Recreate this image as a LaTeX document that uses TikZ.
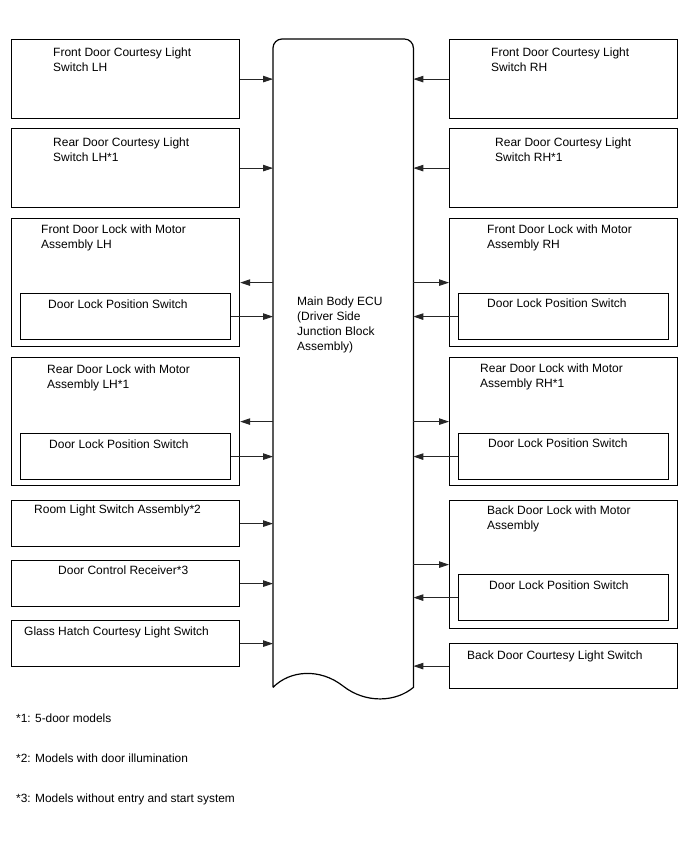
\documentclass[tikz,border=0pt]{standalone}
\usepackage{fontspec}
\setmainfont{Liberation Sans}
\usetikzlibrary{arrows.meta, calc}

\tikzset{
  unitbox/.style={draw, line width=1.2pt, inner sep=0pt, anchor=north west},
  lbl/.style={inner sep=0pt, anchor=north west, align=left, font=\fontsize{12}{14.8}\selectfont},
  note/.style={inner sep=0pt, anchor=north west, font=\fontsize{11.9}{13}\selectfont},
  sig/.style={-{Triangle[length=10pt,width=6.5pt]}, line width=0.9pt, black!85},
}

\begin{document}
\begin{tikzpicture}[x=1pt, y=1pt]
	\useasboundingbox (0,0) rectangle (688,-852);
	% ECU
	\node[inner sep=0pt, minimum width=140pt, minimum height=648pt, anchor=north west] (ecu) at (273,-39) {};
	\draw[line width=1.2pt] (ecu.south west) [rounded corners=9pt] -- (ecu.north west) -- (ecu.north east) [sharp corners] -- (ecu.south east)
		.. controls (396,-702) and (366,-704) .. (343,-686) .. controls (320,-668) and (290,-670) .. (ecu.south west);
	\node[lbl] (ecutxt) at (297,-297) {Main Body ECU\\(Driver Side\\Junction Block\\Assembly)};

	% left column
	\node[unitbox, minimum width=228pt, minimum height=79pt] (fclL) at (11,-39) {};
	\node[lbl] (fclLtxt) at (53,-48) {Front Door Courtesy Light\\Switch LH};
	\node[unitbox, minimum width=228pt, minimum height=79pt] (rclL) at (11,-128) {};
	\node[lbl] (rclLtxt) at (53,-138) {Rear Door Courtesy Light\\Switch LH*1};
	\node[unitbox, minimum width=228pt, minimum height=128pt] (fdlL) at (11,-218) {};
	\node[lbl] (fdlLtxt) at (41,-225) {Front Door Lock with Motor\\Assembly LH};
	\node[unitbox, minimum width=210pt, minimum height=46pt] (fdpL) at (20,-293) {};
	\node[lbl] (fdpLtxt) at (48,-300) {Door Lock Position Switch};
	\node[unitbox, minimum width=228pt, minimum height=128pt] (rdlL) at (11,-357) {};
	\node[lbl] (rdlLtxt) at (47,-365) {Rear Door Lock with Motor\\Assembly LH*1};
	\node[unitbox, minimum width=210pt, minimum height=46pt] (rdpL) at (20,-433) {};
	\node[lbl] (rdpLtxt) at (49,-440) {Door Lock Position Switch};
	\node[unitbox, minimum width=228pt, minimum height=46pt] (room) at (11,-500) {};
	\node[lbl] (roomtxt) at (34,-505) {Room Light Switch Assembly*2};
	\node[unitbox, minimum width=228pt, minimum height=46pt] (dcr) at (11,-560) {};
	\node[lbl] (dcrtxt) at (58,-566) {Door Control Receiver*3};
	\node[unitbox, minimum width=228pt, minimum height=46pt] (ghcl) at (11,-620) {};
	\node[lbl] (ghcltxt) at (24,-627) {Glass Hatch Courtesy Light Switch};

	% right column
	\node[unitbox, minimum width=228pt, minimum height=79pt] (fclR) at (449,-39) {};
	\node[lbl] (fclRtxt) at (491,-48) {Front Door Courtesy Light\\Switch RH};
	\node[unitbox, minimum width=228pt, minimum height=79pt] (rclR) at (449,-128) {};
	\node[lbl] (rclRtxt) at (495,-138) {Rear Door Courtesy Light\\Switch RH*1};
	\node[unitbox, minimum width=228pt, minimum height=128pt] (fdlR) at (449,-218) {};
	\node[lbl] (fdlRtxt) at (487,-225) {Front Door Lock with Motor\\Assembly RH};
	\node[unitbox, minimum width=210pt, minimum height=46pt] (fdpR) at (458,-293) {};
	\node[lbl] (fdpRtxt) at (487,-299) {Door Lock Position Switch};
	\node[unitbox, minimum width=228pt, minimum height=128pt] (rdlR) at (449,-357) {};
	\node[lbl] (rdlRtxt) at (480,-364) {Rear Door Lock with Motor\\Assembly RH*1};
	\node[unitbox, minimum width=210pt, minimum height=46pt] (rdpR) at (458,-433) {};
	\node[lbl] (rdpRtxt) at (488,-439) {Door Lock Position Switch};
	\node[unitbox, minimum width=228pt, minimum height=128pt] (bdl) at (449,-500) {};
	\node[lbl] (bdltxt) at (487,-506) {Back Door Lock with Motor\\Assembly};
	\node[unitbox, minimum width=210pt, minimum height=46pt] (bdp) at (458,-574) {};
	\node[lbl] (bdptxt) at (489,-581) {Door Lock Position Switch};
	\node[unitbox, minimum width=228pt, minimum height=45pt] (bdcl) at (449,-643) {};
	\node[lbl] (bdcltxt) at (467,-651) {Back Door Courtesy Light Switch};

	% signals, left
	\draw[sig] (fclL.east) -- (fclL.east -| ecu.west);
	\draw[sig] (rclL.east) -- (rclL.east -| ecu.west);
	\draw[sig] (fdlL.east -| ecu.west) -- (fdlL.east);
	\draw[sig] (fdpL.east) -- (fdpL.east -| ecu.west);
	\draw[sig] (rdlL.east -| ecu.west) -- (rdlL.east);
	\draw[sig] (rdpL.east) -- (rdpL.east -| ecu.west);
	\draw[sig] (room.east) -- (room.east -| ecu.west);
	\draw[sig] (dcr.east) -- (dcr.east -| ecu.west);
	\draw[sig] (ghcl.east) -- (ghcl.east -| ecu.west);
	% signals, right
	\draw[sig] (fclR.west) -- (fclR.west -| ecu.east);
	\draw[sig] (rclR.west) -- (rclR.west -| ecu.east);
	\draw[sig] (fdlR.west -| ecu.east) -- (fdlR.west);
	\draw[sig] (fdpR.west) -- (fdpR.west -| ecu.east);
	\draw[sig] (rdlR.west -| ecu.east) -- (rdlR.west);
	\draw[sig] (rdpR.west) -- (rdpR.west -| ecu.east);
	\draw[sig] (bdl.west -| ecu.east) -- (bdl.west);
	\draw[sig] (bdp.west) -- (bdp.west -| ecu.east);
	\draw[sig] (bdcl.west) -- (bdcl.west -| ecu.east);

	% footnotes
	\node[note] (n1) at (16,-714) {*1: 5-door models};
	\node[note] (n2) at (16,-754) {*2: Models with door illumination};
	\node[note] (n3) at (16,-794) {*3: Models without entry and start system};
\end{tikzpicture}
\end{document}
